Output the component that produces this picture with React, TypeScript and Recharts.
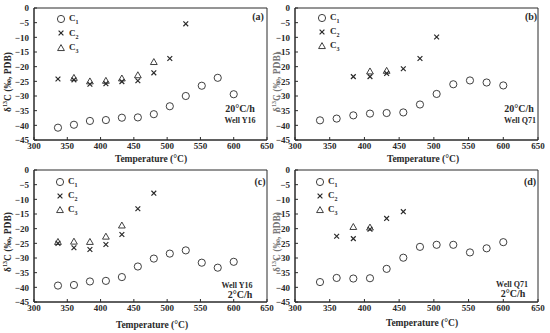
import React from 'react';
import { ScatterChart, Scatter, XAxis, YAxis, ReferenceArea, Legend } from 'recharts';

// ---------- data ----------
const xTicks = [300, 350, 400, 450, 500, 550, 600, 650];
const yTicks = [0, -5, -10, -15, -20, -25, -30, -35, -40, -45];

const tempsC1 = [336, 360, 384, 408, 432, 456, 480, 504, 528, 552, 576, 600];

// (a) 20°C/h Well Y16
const aC1 = [-40.8, -39.8, -38.5, -38.2, -37.4, -37.3, -36.2, -33.5, -30.0, -26.5, -23.8, -29.4];
const aC2T = [336, 360, 384, 408, 432, 456, 480, 504, 528];
const aC2 = [-24.2, -24.5, -26.0, -25.8, -25.1, -24.8, -22.1, -17.2, -5.4];
const aC3T = [360, 384, 408, 432, 456, 480];
const aC3 = [-23.8, -25.0, -24.8, -24.0, -22.9, -18.4];

// (b) 20°C/h Well Q71
const bC1 = [-38.3, -37.7, -36.6, -36.0, -35.8, -35.6, -32.9, -29.3, -26.0, -24.7, -25.4, -26.4];
const bC2T = [384, 408, 432, 456, 480, 504];
const bC2 = [-23.4, -23.4, -22.3, -20.7, -17.2, -9.9];
const bC3T = [408, 432];
const bC3 = [-21.6, -21.4];

// (c) 2°C/h Well Y16
const cC1 = [-39.4, -39.2, -38.0, -37.8, -36.5, -32.9, -30.2, -28.5, -27.4, -31.6, -33.3, -31.3];
const cC2T = [336, 360, 384, 408, 432, 456, 480];
const cC2 = [-25.0, -26.5, -27.1, -25.4, -22.0, -13.2, -7.9];
const cC3T = [336, 360, 384, 408, 432];
const cC3 = [-24.5, -24.4, -24.5, -22.7, -18.9];

// (d) 2°C/h Well Q71
const dC1 = [-38.2, -36.8, -37.0, -36.9, -33.7, -29.9, -26.2, -25.5, -25.5, -28.1, -26.7, -24.6];
const dC2T = [360, 384, 408, 432, 456];
const dC2 = [-22.6, -23.4, -20.2, -16.5, -14.2];
const dC3T = [384, 408];
const dC3 = [-19.4, -19.6];

const toPts = (t: number[], v: number[]) => t.map((x, i) => ({ x, y: v[i] }));

// ---------- styling ----------
const INK = '#2a2a2a';
const FONT = '"Liberation Serif", "Times New Roman", serif';

const CircleShape = (p: any) => (
  <circle cx={p.cx} cy={p.cy} r={3.6} fill="none" stroke={INK} strokeWidth={0.9} />
);
const CrossShape = (p: any) => {
  const s = 2.4;
  return (
    <path
      d={`M${p.cx - s},${p.cy - s}L${p.cx + s},${p.cy + s}M${p.cx - s},${p.cy + s}L${p.cx + s},${p.cy - s}`}
      stroke={INK}
      strokeWidth={1.2}
      fill="none"
    />
  );
};
const TriShape = (p: any) => {
  const s = 3.4;
  return (
    <path
      d={`M${p.cx},${p.cy - s}L${p.cx + s},${p.cy + s * 0.75}L${p.cx - s},${p.cy + s * 0.75}Z`}
      fill="none"
      stroke={INK}
      strokeWidth={0.9}
    />
  );
};

const LegendBox = () => {
  const rows = [
    { shape: 'c', n: '1' },
    { shape: 'x', n: '2' },
    { shape: 't', n: '3' },
  ];
  return (
    <div style={{ fontFamily: FONT, fontWeight: 'bold', fontSize: 9, color: INK }}>
      {rows.map((r) => (
        <div key={r.n} style={{ height: 14.3, display: 'flex', alignItems: 'center' }}>
          <svg width={10} height={10} style={{ marginRight: 3 }}>
            {r.shape === 'c' && <CircleShape cx={5} cy={5} />}
            {r.shape === 'x' && <CrossShape cx={5} cy={5} />}
            {r.shape === 't' && <TriShape cx={5} cy={5} />}
          </svg>
          <span>
            C<sub style={{ fontSize: 6 }}>{r.n}</sub>
          </span>
        </div>
      ))}
    </div>
  );
};

type PanelProps = {
  left: number;
  top: number;
  width: number;
  height: number;
  margin: { top: number; right: number; left: number; bottom: number };
  yAxisWidth: number;
  xAxisHeight: number;
  c1: { x: number; y: number }[];
  c2: { x: number; y: number }[];
  c3: { x: number; y: number }[];
  legendPos: { left: number; top: number };
  tag: string;
  tagPos: [number, number];
  rate: string;
  well: string;
  ratePos: [number, number];
  wellPos: [number, number];
  yTitlePos: [number, number];
  yTitleColor: string;
  xTitlePos: [number, number];
};

const Panel = (p: PanelProps) => {
  const tickStyle = { fontSize: 9, fontFamily: FONT, fontWeight: 'bold', fill: INK } as any;
  return (
    <div style={{ position: 'absolute', left: p.left, top: p.top, width: p.width, height: p.height }}>
      <ScatterChart width={p.width} height={p.height} margin={p.margin}>
        <XAxis
          type="number"
          dataKey="x"
          domain={[300, 650]}
          ticks={xTicks}
          allowDataOverflow
          height={p.xAxisHeight}
          tickSize={-3}
          tickMargin={6}
          stroke={INK}
          tick={tickStyle}
          interval={0}
        />
        <YAxis
          type="number"
          dataKey="y"
          domain={[-45, 0]}
          ticks={yTicks}
          allowDataOverflow
          width={p.yAxisWidth}
          tickSize={-3}
          tickMargin={8}
          stroke={INK}
          tick={tickStyle}
          interval={0}
          tickFormatter={(v: number) => (v < 0 ? '\u2212' + Math.abs(v) : String(v))}
        />
        <ReferenceArea x1={300} x2={650} y1={-45} y2={0} fill="none" stroke={INK} strokeWidth={1} ifOverflow="visible" />
        <Legend
          layout="vertical"
          align="center"
          verticalAlign="middle"
          content={() => <LegendBox />}
          wrapperStyle={{ left: p.legendPos.left, top: p.legendPos.top, width: 'auto', height: 'auto' }}
        />
        <Scatter name="C1" data={p.c1} shape={CircleShape} isAnimationActive={false} />
        <Scatter name="C2" data={p.c2} shape={CrossShape} isAnimationActive={false} />
        <Scatter name="C3" data={p.c3} shape={TriShape} isAnimationActive={false} />
      </ScatterChart>
      <svg
        width={p.width}
        height={p.height}
        style={{ position: 'absolute', left: 0, top: 0, pointerEvents: 'none', overflow: 'visible' }}
        fontFamily={FONT}
        fontWeight="bold"
        fill={INK}
      >
        <text x={p.tagPos[0]} y={p.tagPos[1]} textAnchor="middle" dominantBaseline="central" fontSize={10}>
          {p.tag}
        </text>
        <text x={p.ratePos[0]} y={p.ratePos[1]} textAnchor="middle" dominantBaseline="central" fontSize={10}>
          {p.rate}
        </text>
        <text x={p.wellPos[0]} y={p.wellPos[1]} textAnchor="middle" dominantBaseline="central" fontSize={8}>
          {p.well}
        </text>
        <text x={p.xTitlePos[0]} y={p.xTitlePos[1]} textAnchor="middle" dominantBaseline="central" fontSize={9.5}>
          Temperature (°C)
        </text>
        <text
          x={p.yTitlePos[0]}
          y={p.yTitlePos[1]}
          transform={`rotate(-90 ${p.yTitlePos[0]} ${p.yTitlePos[1]})`}
          textAnchor="middle"
          dominantBaseline="central"
          fontSize={9.5}
          fill={p.yTitleColor}
        >
          δ<tspan fontSize={6} dy={-3}>13</tspan>
          <tspan dy={3}>C (‰, PDB)</tspan>
        </text>
      </svg>
    </div>
  );
};

export default function App() {
  return (
    <div style={{ position: 'absolute', left: 0, top: 0, width: 550, height: 333, background: '#fff', overflow: 'hidden' }}>
      <Panel
        left={0}
        top={0}
        width={275}
        height={166}
        margin={{ top: 8, right: 8, left: 0, bottom: 0 }}
        yAxisWidth={34}
        xAxisHeight={26}
        c1={toPts(tempsC1, aC1)}
        c2={toPts(aC2T, aC2)}
        c3={toPts(aC3T, aC3)}
        legendPos={{ left: 56, top: 12 }}
        tag="(a)"
        tagPos={[258, 16]}
        rate="20°C/h"
        well="Well Y16"
        ratePos={[240, 108]}
        wellPos={[240, 120]}
        yTitlePos={[8, 82]}
        yTitleColor={INK}
        xTitlePos={[151, 159]}
      />
      <Panel
        left={275}
        top={0}
        width={275}
        height={166}
        margin={{ top: 8, right: 12, left: 0, bottom: 0 }}
        yAxisWidth={20}
        xAxisHeight={26}
        c1={toPts(tempsC1, bC1)}
        c2={toPts(bC2T, bC2)}
        c3={toPts(bC3T, bC3)}
        legendPos={{ left: 42, top: 10.5 }}
        tag="(b)"
        tagPos={[256, 16]}
        rate="20°C/h"
        well="Well Q71"
        ratePos={[244, 108]}
        wellPos={[245, 120]}
        yTitlePos={[2, 82]}
        yTitleColor="#777"
        xTitlePos={[148, 159]}
      />
      <Panel
        left={0}
        top={166}
        width={275}
        height={167}
        margin={{ top: 4, right: 8, left: 0, bottom: 0 }}
        yAxisWidth={34}
        xAxisHeight={31}
        c1={toPts(tempsC1, cC1)}
        c2={toPts(cC2T, cC2)}
        c3={toPts(cC3T, cC3)}
        legendPos={{ left: 55, top: 8.5 }}
        tag="(c)"
        tagPos={[260, 15]}
        rate="2°C/h"
        well="Well Y16"
        ratePos={[240, 128]}
        wellPos={[237, 119]}
        yTitlePos={[8, 76]}
        yTitleColor={INK}
        xTitlePos={[152, 159]}
      />
      <Panel
        left={275}
        top={166}
        width={275}
        height={167}
        margin={{ top: 4, right: 12, left: 0, bottom: 0 }}
        yAxisWidth={20}
        xAxisHeight={31}
        c1={toPts(tempsC1, dC1)}
        c2={toPts(dC2T, dC2)}
        c3={toPts(dC3T, dC3)}
        legendPos={{ left: 40, top: 8.5 }}
        tag="(d)"
        tagPos={[255, 15]}
        rate="2°C/h"
        well="Well Q71"
        ratePos={[238, 127]}
        wellPos={[237, 118]}
        yTitlePos={[2, 76]}
        yTitleColor="#777"
        xTitlePos={[147, 157]}
      />
    </div>
  );
}
